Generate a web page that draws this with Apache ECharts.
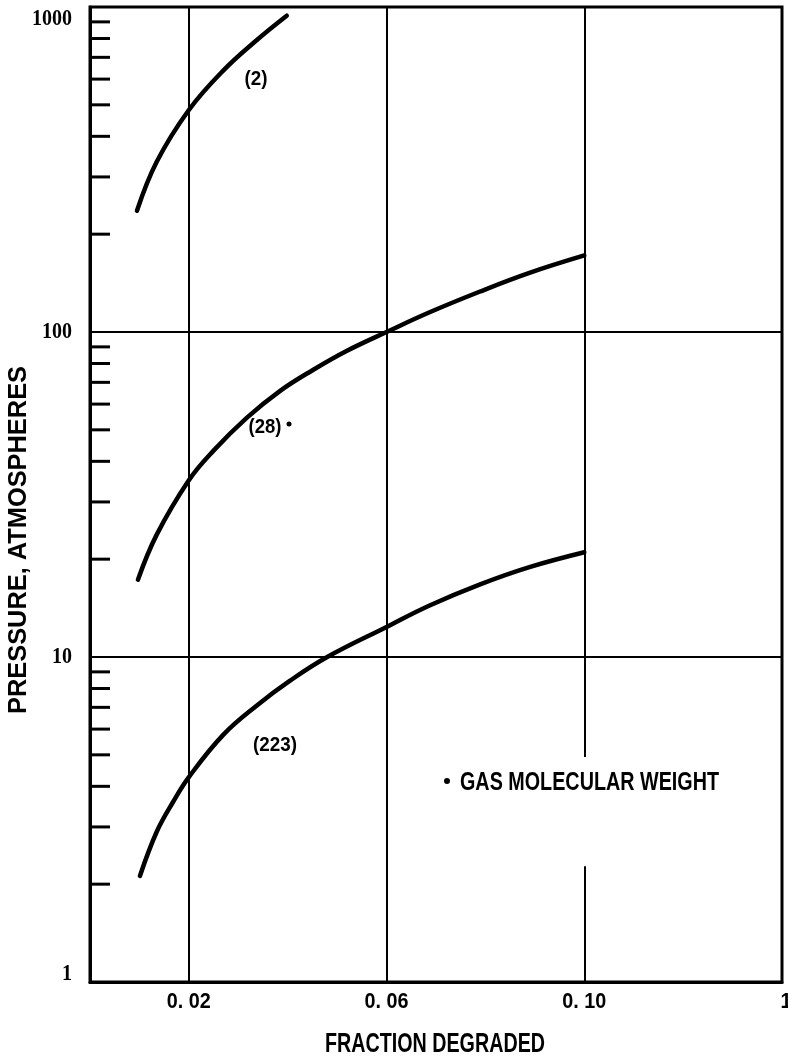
<!DOCTYPE html>
<html>
<head>
<meta charset="utf-8">
<script src="https://cdn.jsdelivr.net/npm/echarts@6/dist/echarts.min.js"></script>
<style>
  html, body { margin: 0; padding: 0; background: #fff; }
  #main { width: 788px; height: 1057px; }
</style>
</head>
<body>
<div id="main"></div>
<script>
// values
var curve2X = [0.0095, 0.0135, 0.020, 0.0269, 0.0337, 0.0398];
var curve2Y = [236, 334, 482, 636, 790, 940];

var curve28X = [0.0097, 0.0135, 0.020, 0.0249, 0.0317, 0.0384, 0.0451, 0.0519, 0.060, 0.0687, 0.0788, 0.0889, 0.100];
var curve28Y = [17.3, 23.8, 35.0, 43.0, 54.4, 65.8, 76.4, 87.4, 100, 115, 133, 152, 172];

var curve223X = [0.0101, 0.0135, 0.0168, 0.020, 0.0269, 0.0337, 0.0404, 0.0479, 0.060, 0.0687, 0.0788, 0.0889, 0.100];
var curve223Y = [2.12, 2.9, 3.58, 4.27, 5.75, 7.08, 8.44, 9.98, 12.37, 14.4, 16.7, 18.9, 21.0];

var xTicks = [0.02, 0.06, 0.10, 0.14];
var xTickLabels = ['0. 02', '0. 06', '0. 10', '1'];
var yTicks = [1, 10, 100, 1000];
var yTickLabels = ['1', '10', '100', '1000'];
var yMinorTicks = [2, 3, 4, 5, 6, 7, 8, 9, 20, 30, 40, 50, 60, 70, 80, 90,
                   200, 300, 400, 500, 600, 700, 800, 900];
var xGridLines = [0.02, 0.06];

var SANS = "'Liberation Sans', Arial, sans-serif";
var SERIF = "'Liberation Serif', 'Times New Roman', serif";

function pairs(xs, ys) {
  return xs.map(function (x, i) { return [x, ys[i]]; });
}

// the lettering is a tall condensed face, so squeeze a normal one to size
var measureCtx = document.createElement('canvas').getContext('2d');
function label(text, x, y, w, capH, opts) {
  opts = opts || {};
  var size = 20;
  var font = 'bold ' + size + 'px ' + (opts.family || SANS);
  measureCtx.font = font;
  var tw = measureCtx.measureText(text).width;
  var capRatio = opts.capRatio || 0.72;
  return {
    type: 'text',
    x: x, y: y,
    rotation: opts.rotation || 0,
    scaleX: w ? w / tw : 1,
    scaleY: capH / (capRatio * size),
    z: 100,
    style: {
      text: text, fill: '#000', font: font,
      align: opts.align || 'center', verticalAlign: 'middle'
    }
  };
}

var myChart = echarts.init(document.getElementById('main'));

var gridLines = xGridLines.map(function (x) {
  return [{ coord: [x, 1] }, { coord: [x, 1000] }];
});
// the 0.10 line is broken where the note sits
gridLines.push([{ coord: [0.10, 1] }, { coord: [0.10, 2.27] }]);
gridLines.push([{ coord: [0.10, 4.92] }, { coord: [0.10, 1000] }]);

function curve(name, data, withLines) {
  var s = {
    name: name,
    type: 'line',
    data: data,
    smooth: 0.4,
    symbol: 'none',
    lineStyle: { color: '#000', width: 4.5, cap: 'round' },
    z: 5
  };
  if (withLines) {
    s.markLine = {
      silent: true,
      symbol: 'none',
      label: { show: false },
      lineStyle: { color: '#000', width: 2, type: 'solid' },
      data: gridLines
    };
  }
  return s;
}

var option = {
  backgroundColor: '#fff',
  animation: false,
  grid: {
    left: 90, top: 7, width: 692, height: 975,
    show: true, borderColor: '#000', borderWidth: 3,
    containLabel: false
  },
  xAxis: {
    type: 'value',
    min: 0, max: 0.14, interval: 0.02,
    axisLine: { lineStyle: { color: '#000', width: 3 } },
    axisTick: { show: false },
    splitLine: { show: false },
    axisLabel: { show: false }
  },
  yAxis: {
    type: 'log',
    logBase: 10,
    min: 1, max: 1000,
    axisLine: { show: true, lineStyle: { color: '#000', width: 3 } },
    axisTick: { show: false },
    splitLine: { show: true, lineStyle: { color: '#000', width: 2 } },
    axisLabel: { show: false }
  },
  series: [
    curve('(2)', pairs(curve2X, curve2Y), true),
    curve('(28)', pairs(curve28X, curve28Y), false),
    curve('(223)', pairs(curve223X, curve223Y), false),
    {
      name: 'minor ticks',
      type: 'custom',
      silent: true,
      data: yMinorTicks.map(function (v) { return [0, v]; }),
      renderItem: function (params, api) {
        var p = api.coord([api.value(0), api.value(1)]);
        return {
          type: 'line',
          shape: { x1: p[0], y1: p[1], x2: p[0] + 20, y2: p[1] },
          style: { stroke: '#000', lineWidth: 3 }
        };
      },
      z: 4
    }
  ]
};

myChart.setOption(option);

// tick labels placed through the axes' own scales
var texts = [];
xTicks.forEach(function (v, i) {
  var p = myChart.convertToPixel({ gridIndex: 0 }, [v, 1]);
  var t = xTickLabels[i];
  texts.push(label(t, p[0] + (t.length > 1 ? 0 : 4), 1002, t.length > 1 ? 44 : 0, 16));
});
yTicks.forEach(function (v, i) {
  var p = myChart.convertToPixel({ gridIndex: 0 }, [0, v]);
  var y = Math.max(19, Math.min(974, p[1]));
  texts.push(label(yTickLabels[i], 72, y, 0, 15, { family: SERIF, capRatio: 0.66, align: 'right' }));
});

texts.push(label('FRACTION DEGRADED', 435, 1044, 220, 20));
texts.push(label('PRESSURE, ATMOSPHERES', 19, 540, 348, 18, { rotation: Math.PI / 2 }));
texts.push(label('(2)', 256, 80, 23, 14));
texts.push(label('(28)', 265, 427, 33, 15));
texts.push(label('(223)', 275, 745, 44, 15));
texts.push(label('GAS MOLECULAR WEIGHT', 460, 783, 259, 19, { align: 'left' }));
texts.push({ type: 'circle', shape: { cx: 289, cy: 424, r: 2.5 }, style: { fill: '#000' }, z: 100 });
texts.push({ type: 'circle', shape: { cx: 447, cy: 781, r: 3 }, style: { fill: '#000' }, z: 100 });

myChart.setOption({ graphic: texts });
</script>
</body>
</html>
